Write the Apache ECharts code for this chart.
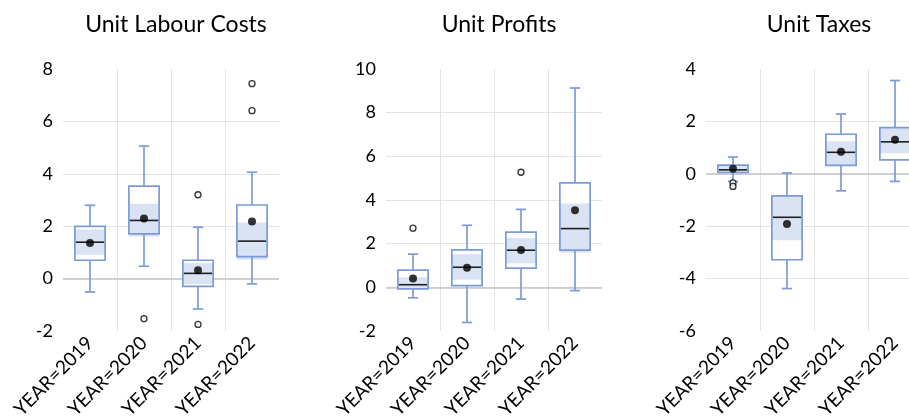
<!DOCTYPE html>
<html>
<head>
<meta charset="utf-8">
<script src="https://cdn.jsdelivr.net/npm/echarts@6/dist/echarts.min.js"></script>
<style>
html,body{margin:0;padding:0;background:#fff;}
#chart{width:909px;height:419px;}
</style>
</head>
<body>
<div id="chart"></div>
<script>
// ---- data ----
const categories = ['YEAR=2019', 'YEAR=2020', 'YEAR=2021', 'YEAR=2022'];
const titles = ['Unit Labour Costs', 'Unit Profits', 'Unit Taxes'];

// Unit Labour Costs
const ulcWhiskerLow  = [-0.51, 0.47, -1.16, -0.20];
const ulcQ1          = [0.70, 1.71, -0.30, 0.84];
const ulcMedian      = [1.39, 2.22, 0.20, 1.43];
const ulcQ3          = [1.99, 3.53, 0.70, 2.81];
const ulcWhiskerHigh = [2.80, 5.06, 1.96, 4.06];
const ulcBandLow     = [0.91, 1.60, -0.21, 0.72];
const ulcBandHigh    = [1.88, 2.86, 0.59, 2.14];
const ulcMean        = [1.36, 2.29, 0.32, 2.18];
const ulcOutliers    = [[1, -1.53], [2, 3.20], [2, -1.75], [3, 7.44], [3, 6.41]];

// Unit Profits
const upWhiskerLow  = [-0.48, -1.61, -0.54, -0.15];
const upQ1          = [-0.07, 0.08, 0.88, 1.70];
const upMedian      = [0.12, 0.92, 1.70, 2.69];
const upQ3          = [0.79, 1.72, 2.53, 4.78];
const upWhiskerHigh = [1.52, 2.84, 3.57, 9.13];
const upBandLow     = [-0.10, 0.35, 1.10, 1.60];
const upBandHigh    = [0.46, 1.52, 2.26, 3.84];
const upMean        = [0.40, 0.90, 1.71, 3.53];
const upOutliers    = [[0, 2.71], [2, 5.27]];

// Unit Taxes
const utWhiskerLow  = [-0.29, -4.38, -0.65, -0.29];
const utQ1          = [0.05, -3.28, 0.32, 0.53];
const utMedian      = [0.15, -1.66, 0.82, 1.22];
const utQ3          = [0.33, -0.84, 1.51, 1.76];
const utWhiskerHigh = [0.64, 0.03, 2.28, 3.56];
const utBandLow     = [0.05, -2.54, 0.32, 0.78];
const utBandHigh    = [0.30, -0.84, 1.24, 1.76];
const utMean        = [0.19, -1.92, 0.84, 1.30];
const utOutliers    = [[0, -0.35], [0, -0.48]];

const yMins = [-2, -2, -6];
const yMaxs = [8, 10, 4];
const yInterval = 2;

// ---- styling / layout ----
const FONT = 'Lato';
const BOX = '#7a9bd8';
const BAND = '#dae3f3';
const gridLefts = [63, 386, 706];
const gridWidth = 216;
const gridTop = 69;
const gridHeight = 262;

const panels = [
  [ulcWhiskerLow, ulcQ1, ulcMedian, ulcQ3, ulcWhiskerHigh, ulcBandLow, ulcBandHigh, ulcMean, ulcOutliers],
  [upWhiskerLow, upQ1, upMedian, upQ3, upWhiskerHigh, upBandLow, upBandHigh, upMean, upOutliers],
  [utWhiskerLow, utQ1, utMedian, utQ3, utWhiskerHigh, utBandLow, utBandHigh, utMean, utOutliers]
];

function renderBox(params, api) {
  const xi = api.value(0);
  const cx = api.coord([xi, 0])[0];
  const y = k => api.coord([xi, api.value(k)])[1];
  const band = api.size([1, 0])[0];
  const bw = band * 0.56;
  const cw = bw * 0.34;
  const wlo = y(1), q1 = y(2), med = y(3), q3 = y(4), whi = y(5), bl = y(6), bh = y(7);
  const x0 = cx - bw / 2;
  const stroke = { stroke: BOX, lineWidth: 1.7, fill: null };
  return {
    type: 'group',
    children: [
      { type: 'rect', shape: { x: x0, y: q3, width: bw, height: q1 - q3 }, style: { fill: '#ffffff' } },
      { type: 'rect', shape: { x: x0, y: bh, width: bw, height: bl - bh }, style: { fill: BAND } },
      { type: 'rect', shape: { x: x0, y: q3, width: bw, height: q1 - q3 }, style: stroke },
      { type: 'line', shape: { x1: cx, y1: q3, x2: cx, y2: whi }, style: stroke },
      { type: 'line', shape: { x1: cx, y1: q1, x2: cx, y2: wlo }, style: stroke },
      { type: 'line', shape: { x1: cx - cw / 2, y1: whi, x2: cx + cw / 2, y2: whi }, style: stroke },
      { type: 'line', shape: { x1: cx - cw / 2, y1: wlo, x2: cx + cw / 2, y2: wlo }, style: stroke },
      { type: 'line', shape: { x1: x0 + 1, y1: med, x2: x0 + bw - 1, y2: med }, style: { stroke: '#1f1f1f', lineWidth: 1.6 } }
    ]
  };
}

const option = {
  animation: false,
  backgroundColor: '#ffffff',
  title: titles.map((t, i) => ({
    text: t,
    left: gridLefts[i] + gridWidth / 2,
    top: 8,
    textAlign: 'center',
    textStyle: { fontFamily: FONT, fontSize: 23, fontWeight: 'normal', color: '#000' }
  })),
  grid: gridLefts.map(l => ({ left: l, width: gridWidth, top: gridTop, height: gridHeight, containLabel: false, outerBoundsMode: 'none' })),
  xAxis: gridLefts.map((l, i) => ({
    type: 'category',
    gridIndex: i,
    data: categories,
    boundaryGap: true,
    axisLine: { show: false },
    axisTick: { show: false },
    axisLabel: { rotate: 45, interval: 0, margin: 9, fontFamily: FONT, fontSize: 19, color: '#000' },
    splitLine: { show: true, interval: 0, showMinLine: false, showMaxLine: false, lineStyle: { color: '#e3e3e3', width: 1 } }
  })),
  yAxis: gridLefts.map((l, i) => ({
    type: 'value',
    gridIndex: i,
    min: yMins[i],
    max: yMaxs[i],
    interval: yInterval,
    axisLine: { show: false },
    axisTick: { show: false },
    axisLabel: { margin: 10, fontFamily: FONT, fontSize: 18, color: '#000' },
    splitLine: { show: true, showMinLine: false, showMaxLine: false, lineStyle: { color: '#e3e3e3', width: 1 } }
  })),
  series: []
};

panels.forEach((p, i) => {
  const [wlo, q1, med, q3, whi, bl, bh, mean, outl] = p;
  const boxData = categories.map((c, k) => [k, wlo[k], q1[k], med[k], q3[k], whi[k], bl[k], bh[k]]);
  option.series.push({
    type: 'scatter',
    xAxisIndex: i, yAxisIndex: i,
    data: [],
    silent: true,
    z: 1,
    markLine: {
      silent: true, z: 1, symbol: 'none', label: { show: false },
      lineStyle: { color: '#c4c4c4', width: 1.6, type: 'solid' },
      data: [{ yAxis: 0 }]
    }
  });
  option.series.push({
    type: 'custom',
    xAxisIndex: i, yAxisIndex: i,
    z: 3,
    renderItem: renderBox,
    encode: { x: 0, y: [1, 2, 3, 4, 5, 6, 7] },
    data: boxData
  });
  option.series.push({
    type: 'scatter',
    xAxisIndex: i, yAxisIndex: i,
    z: 5,
    symbol: 'circle', symbolSize: 8,
    itemStyle: { color: '#000' },
    data: mean.map((v, k) => [k, v])
  });
  option.series.push({
    type: 'scatter',
    xAxisIndex: i, yAxisIndex: i,
    z: 5,
    symbol: 'circle', symbolSize: 6,
    itemStyle: { color: '#fff', borderColor: '#000', borderWidth: 1.3 },
    data: outl
  });
});

const chart = echarts.init(document.getElementById('chart'), null, { renderer: 'canvas' });
chart.setOption(option);
</script>
</body>
</html>
